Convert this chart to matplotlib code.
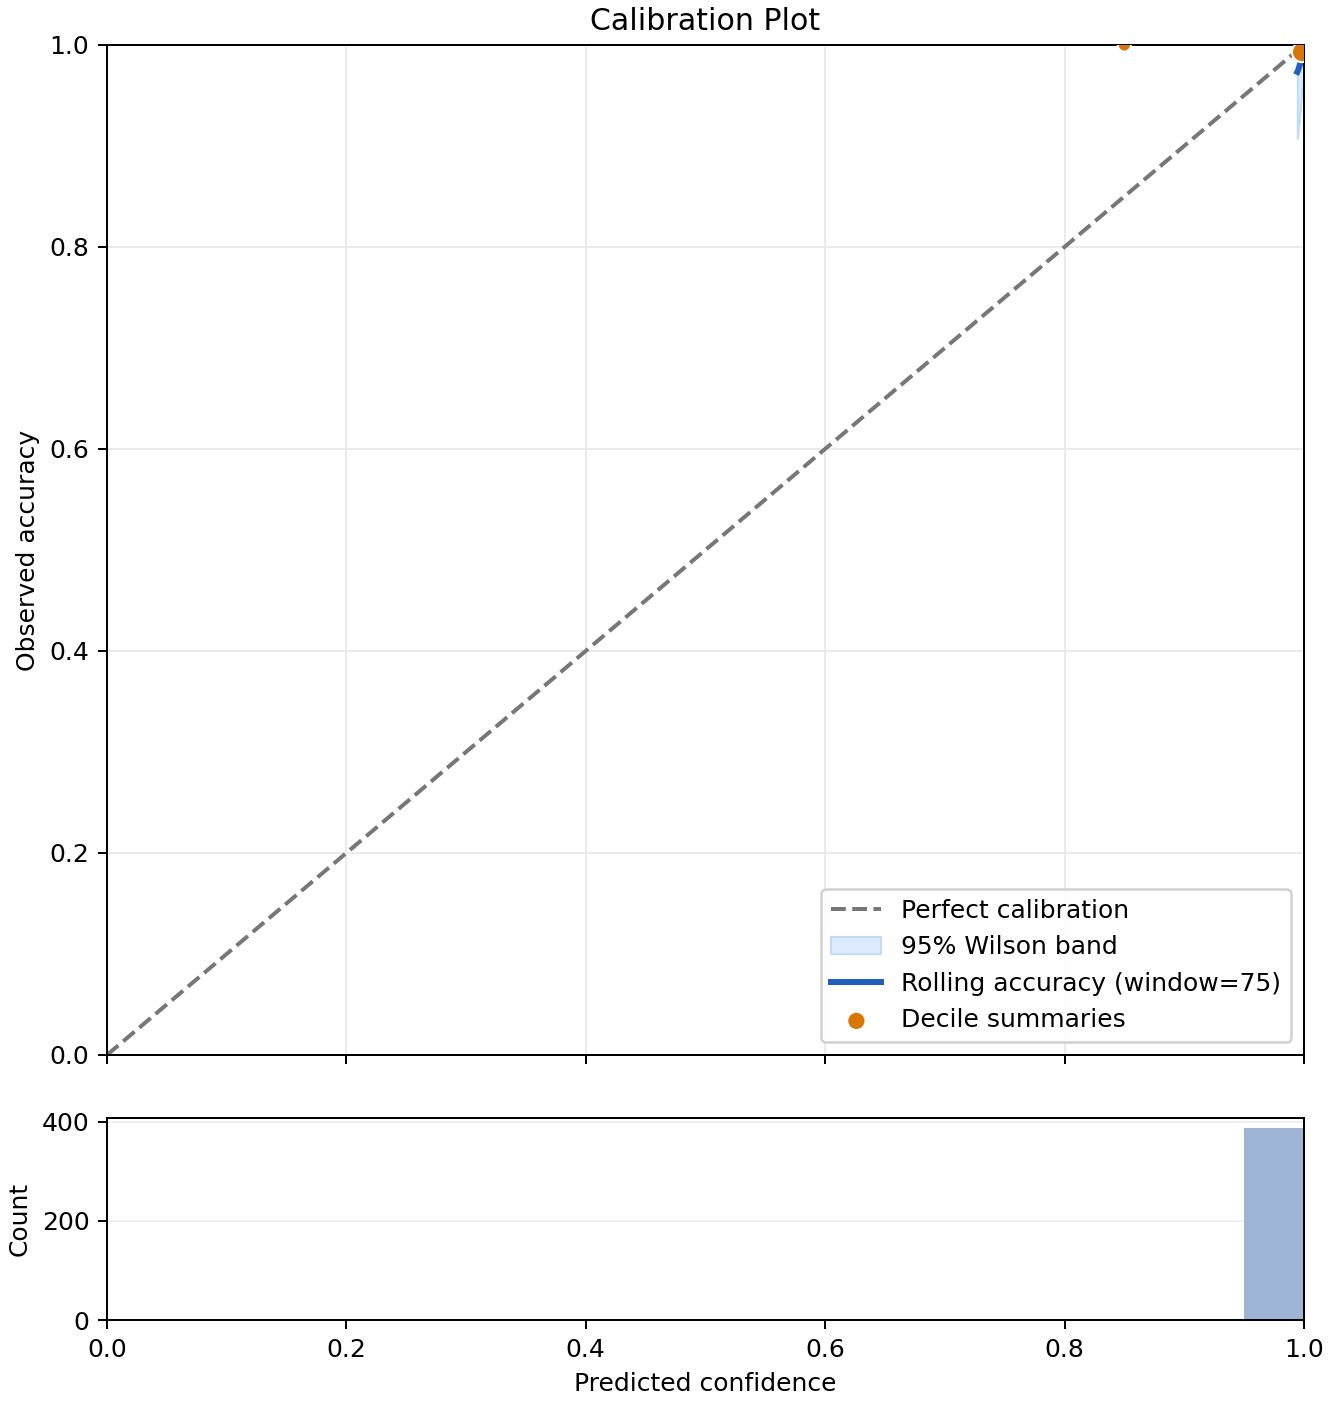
import matplotlib
matplotlib.use("Agg")
import matplotlib.pyplot as plt

# rolling accuracy (window=75) along sorted confidence
roll_conf = [0.9945, 0.9952, 0.9960, 0.9968, 0.9976, 0.9984, 0.9991, 0.9996, 1.0]
roll_acc = [0.9733, 0.9750, 0.9780, 0.9810, 0.9840, 0.9867, 0.9920, 0.9973, 1.0]
wilson_lo = [0.9078, 0.9150, 0.9250, 0.9350, 0.9450, 0.9550, 0.9620, 0.9660, 0.9680]
wilson_hi = [0.9926, 0.9935, 0.9950, 0.9960, 0.9970, 0.9977, 0.9990, 0.9998, 1.0]

# decile summaries
dec_conf = [0.85, 0.9985]
dec_acc = [1.0, 0.993]
dec_size = [28, 66]

# histogram of predicted confidence
bin_left = [0.90, 0.95]
bin_counts = [3, 388]
bin_width = 0.05

fig = plt.figure(figsize=(7.4, 7.8), dpi=180)
ax = fig.add_axes([0.0803, 0.2486, 0.8986, 0.7194])
axh = fig.add_axes([0.0803, 0.0598, 0.8986, 0.1439], sharex=ax)

ax.plot([0, 1], [0, 1], ls="--", color="#777777", lw=1.6, label="Perfect calibration")
ax.fill_between(roll_conf, wilson_lo, wilson_hi, color="#dbeafe", edgecolor="#bfdbfe",
                lw=0.8, label="95% Wilson band")
ax.plot(roll_conf, roll_acc, color="#1f5fbf", lw=2.4, label="Rolling accuracy (window=75)")
ax.scatter(dec_conf, dec_acc, s=dec_size, color="#d97706", edgecolor="white", lw=0.8,
           zorder=5, label="Decile summaries")

ax.set_xlim(0, 1)
ax.set_ylim(0, 1)
ax.set_ylabel("Observed accuracy")
ax.set_title("Calibration Plot", fontsize=12)
ax.grid(True, color="#ebebeb", lw=0.8)
ax.tick_params(labelbottom=False)
leg = ax.legend(loc="lower right", fontsize=10, framealpha=0.9)
for h in leg.legend_handles:
    if hasattr(h, "set_sizes"):
        h.set_sizes([42])
        h.set_edgecolor("none")

axh.bar(bin_left, bin_counts, width=bin_width, align="edge", color="#9db4d4")
axh.set_xlim(0, 1)
axh.set_ylabel("Count")
axh.set_xlabel("Predicted confidence")
axh.set_yticks([0, 200, 400])
axh.grid(True, axis="y", color="#efefef", lw=0.8)
axh.set_axisbelow(True)

fig.savefig("out.png", dpi=180)
